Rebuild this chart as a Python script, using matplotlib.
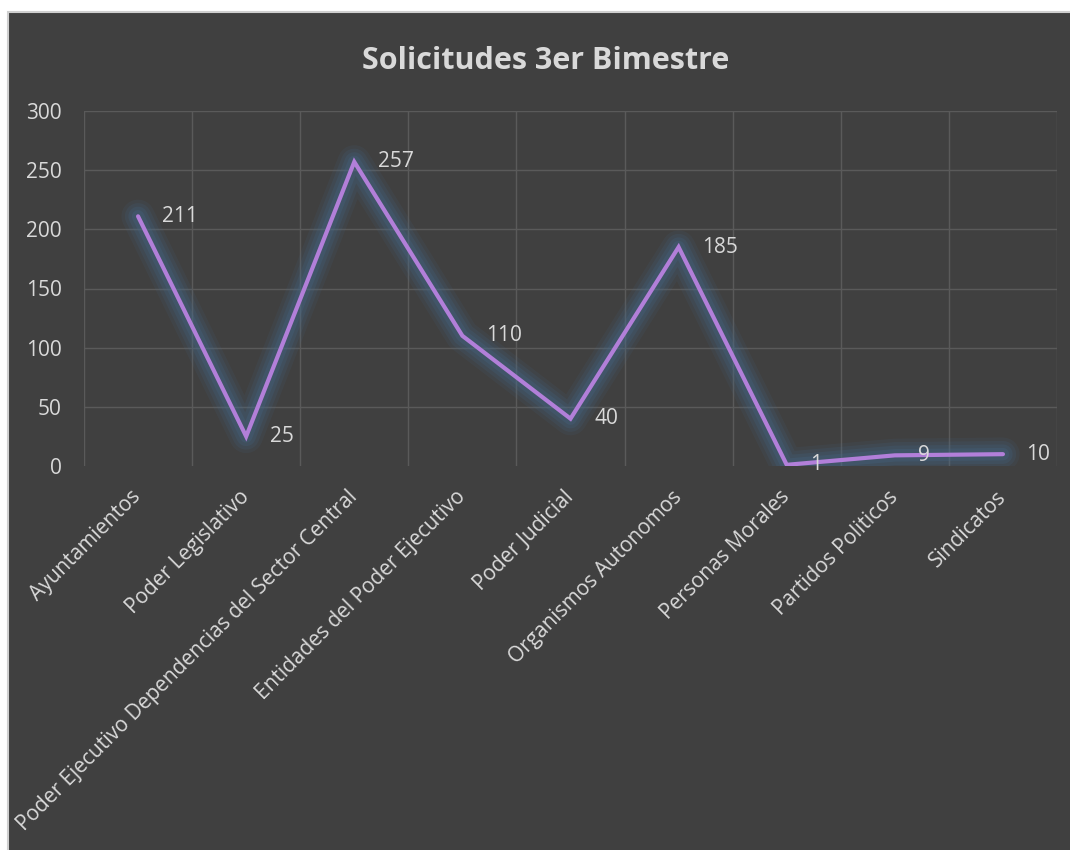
import matplotlib.pyplot as plt
from matplotlib.patches import Rectangle

categorias = ["Ayuntamientos", "Poder Legislativo",
              "Poder Ejecutivo Dependencias del Sector Central",
              "Entidades del Poder Ejecutivo", "Poder Judicial",
              "Organismos Autonomos", "Personas Morales",
              "Partidos Politicos", "Sindicatos"]
solicitudes = [211, 25, 257, 110, 40, 185, 1, 9, 10]
yticks = [0, 50, 100, 150, 200, 250, 300]

plt.rcParams['font.family'] = ['Open Sans', 'DejaVu Sans']
bg = '#404040'
txt = '#D9D9D9'

fig = plt.figure(figsize=(10.7, 8.5), dpi=100)
fig.patch.set_facecolor('white')
fig.patches.append(Rectangle((8 / 1070, -0.01), 1.02, 1 - 12 / 850 + 0.01,
                             transform=fig.transFigure, facecolor=bg,
                             edgecolor='#CFCFCF', linewidth=1.5, zorder=-5))

ax = fig.add_axes([84 / 1070, 1 - 466 / 850, (1057 - 84) / 1070, (466 - 111) / 850])
ax.set_facecolor(bg)
for s in ax.spines.values():
    s.set_visible(False)

x = list(range(len(categorias)))

# glow under the line
for w, a in [(24, 0.12), (19, 0.16), (14, 0.2), (9, 0.25)]:
    ax.plot(x, solicitudes, color='#45698A', linewidth=w, alpha=a,
            solid_capstyle='round', solid_joinstyle='round', zorder=2)
ax.plot(x, solicitudes, color='#B27FD9', linewidth=3, solid_capstyle='round',
        solid_joinstyle='miter', zorder=3)

for xi, v in zip(x, solicitudes):
    ax.annotate(str(v), (xi, v), xytext=(17, 0), textcoords='offset points',
                ha='left', va='center', color=txt, fontsize=15)

ax.set_xlim(-0.5, len(categorias) - 0.5)
ax.set_ylim(0, 300)
ax.set_yticks(yticks)
ax.set_xticks(x)
ax.set_xticklabels(categorias, rotation=45, ha='right', va='center',
                   rotation_mode='anchor')
ax.set_xticks([i - 0.5 for i in range(len(categorias) + 1)], minor=True)
ax.tick_params(axis='both', which='both', length=0, colors=txt, labelsize=15)
ax.tick_params(axis='y', pad=16)
ax.tick_params(axis='x', pad=20)
ax.grid(axis='y', which='major', color='#5A5A5A', linewidth=1)
ax.grid(axis='x', which='minor', color='#5A5A5A', linewidth=1)
ax.grid(axis='x', which='major', visible=False)
ax.set_axisbelow(True)
# hide grid line at zero
ax.get_ygridlines()[0].set_visible(False)

fig.text(546 / 1070, 1 - 61 / 850, "Solicitudes 3er Bimestre", ha='center', va='center',
         color=txt, fontsize=22, fontweight='bold')

fig.savefig('out.png', dpi=100, facecolor=fig.get_facecolor())
